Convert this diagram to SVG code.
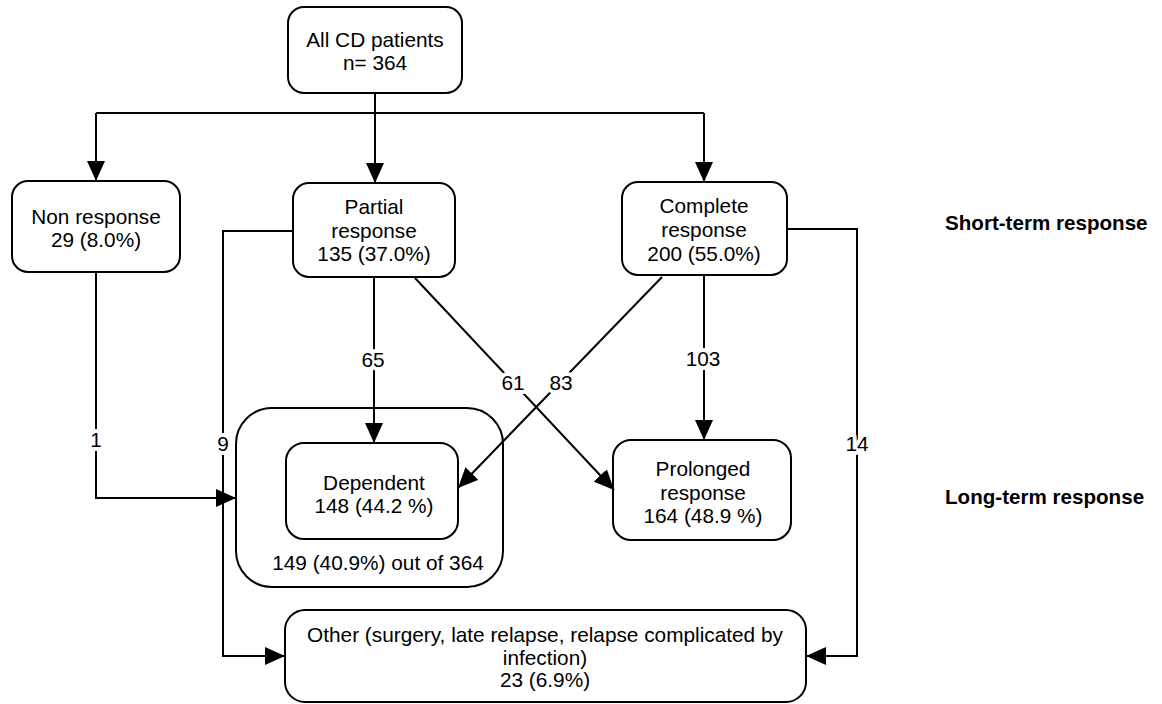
<svg xmlns="http://www.w3.org/2000/svg" width="1162" height="704" viewBox="0 0 1162 704">
<style>
.box{fill:#fff;stroke:#000;stroke-width:2}
.grp{fill:none;stroke:#000;stroke-width:2}
.t{font-family:"Liberation Sans",Arial,sans-serif;font-size:20.8px;fill:#000;text-anchor:middle}
.lbl{font-family:"Liberation Sans",Arial,sans-serif;font-size:20.8px;fill:#000;text-anchor:middle;stroke:#fff;stroke-width:8;paint-order:stroke;stroke-linejoin:round}
.h{font-family:"Liberation Sans",Arial,sans-serif;font-size:20.6px;font-weight:bold;fill:#000}
.c{fill:none;stroke:#000;stroke-width:2}
</style>
<defs>
<marker id="arr" viewBox="0 0 20 18" refX="20" refY="9" markerWidth="20" markerHeight="18" orient="auto" markerUnits="userSpaceOnUse">
<path d="M0,0 L20,9 L0,18 z" fill="#000"/>
</marker>
</defs>
<rect width="1162" height="704" fill="#fff"/>

<g id="all">
<rect class="box" x="288" y="7" width="174" height="86" rx="16"/>
<text class="t" x="375" y="47">All CD patients</text>
<text class="t" x="375" y="70">n= 364</text>
</g>

<g id="non">
<rect class="box" x="12" y="181" width="168" height="91" rx="16"/>
<text class="t" x="96" y="224">Non response</text>
<text class="t" x="96" y="247">29 (8.0%)</text>
</g>

<g id="partial">
<rect class="box" x="293" y="183" width="162" height="94" rx="16"/>
<text class="t" x="374" y="214">Partial</text>
<text class="t" x="374" y="238">response</text>
<text class="t" x="374" y="261">135 (37.0%)</text>
</g>

<g id="complete">
<rect class="box" x="622" y="182" width="165" height="93" rx="16"/>
<text class="t" x="704" y="213">Complete</text>
<text class="t" x="704" y="237">response</text>
<text class="t" x="704" y="261">200 (55.0%)</text>
</g>

<g id="dependent-group">
<rect class="grp" x="236" y="408" width="267" height="179" rx="36"/>
<text class="t" x="378" y="570">149 (40.9%) out of 364</text>
</g>

<g id="dependent">
<rect class="box" x="286" y="443" width="172" height="96" rx="18"/>
<text class="t" x="374" y="490">Dependent</text>
<text class="t" x="374" y="513">148 (44.2 %)</text>
</g>

<g id="prolonged">
<rect class="box" x="613" y="440" width="178" height="100" rx="18"/>
<text class="t" x="703" y="476">Prolonged</text>
<text class="t" x="703" y="500">response</text>
<text class="t" x="703" y="523">164 (48.9 %)</text>
</g>

<g id="other">
<rect class="box" x="285" y="610" width="521" height="92" rx="20"/>
<text class="t" x="545" y="642">Other (surgery, late relapse, relapse complicated by</text>
<text class="t" x="545" y="665">infection)</text>
<text class="t" x="545" y="687">23 (6.9%)</text>
</g>

<g id="row-labels">
<text class="h" x="945" y="230">Short-term response</text>
<text class="h" x="945" y="504">Long-term response</text>
</g>

<g id="connectors">
<path class="c" d="M375,93 V113"/>
<path class="c" d="M96,113 H704"/>
<path class="c" d="M96,113 V181" marker-end="url(#arr)"/>
<path class="c" d="M375,113 V183" marker-end="url(#arr)"/>
<path class="c" d="M704,113 V182" marker-end="url(#arr)"/>
<path class="c" d="M96,272 V498 H236" marker-end="url(#arr)"/>
<path class="c" d="M293,231 H223 V656 H285" marker-end="url(#arr)"/>
<path class="c" d="M374,277 V443" marker-end="url(#arr)"/>
<path class="c" d="M415,278 L614,490" marker-end="url(#arr)"/>
<path class="c" d="M662,277 L458,488" marker-end="url(#arr)"/>
<path class="c" d="M704,275 V440" marker-end="url(#arr)"/>
<path class="c" d="M787,229 H857 V656 H806" marker-end="url(#arr)"/>
<text class="lbl" x="96" y="447">1</text>
<text class="lbl" x="223" y="451">9</text>
<text class="lbl" x="373" y="367">65</text>
<text class="lbl" x="513" y="390">61</text>
<text class="lbl" x="561" y="390">83</text>
<text class="lbl" x="703" y="366">103</text>
<text class="lbl" x="857" y="451">14</text>
</g>
</svg>
